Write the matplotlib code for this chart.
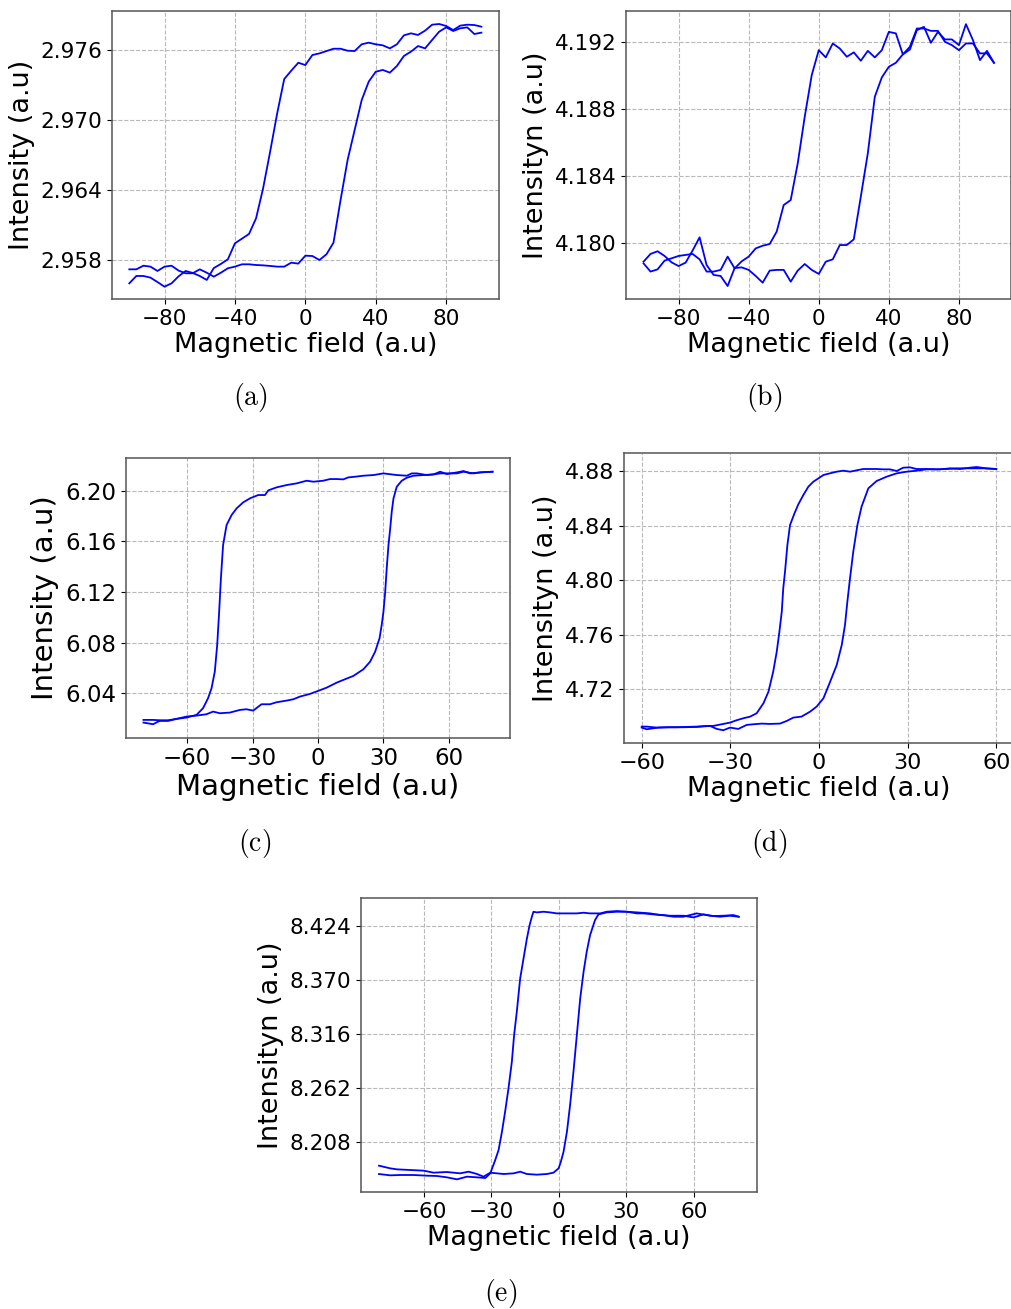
import matplotlib
matplotlib.use("Agg")
import matplotlib.pyplot as plt

plt.rcParams["mathtext.fontset"] = "cm"

# ---------------- data ----------------
# (a) and (b): field sweep in steps of 4
field_ab = [-100, -96, -92, -88, -84, -80, -76, -72, -68, -64,
            -60, -56, -52, -48, -44, -40, -36, -32, -28, -24,
            -20, -16, -12, -8, -4, 0, 4, 8, 12, 16,
            20, 24, 28, 32, 36, 40, 44, 48, 52, 56,
            60, 64, 68, 72, 76, 80, 84, 88, 92, 96, 100]

# ascending field branch (-100 -> 100)
a_up = [2.95720, 2.95720, 2.95751, 2.95743, 2.95706, 2.95743, 2.95751, 2.95709, 2.95686, 2.95686,
        2.95720, 2.95691, 2.95657, 2.95691, 2.95729, 2.95743, 2.95763, 2.95763, 2.95757, 2.95754,
        2.95749, 2.95743, 2.95743, 2.95777, 2.95769, 2.95837, 2.95834, 2.95800, 2.95849, 2.95949,
        2.96314, 2.96657, 2.96914, 2.97171, 2.97329, 2.97414, 2.97429, 2.97406, 2.97463, 2.97549,
        2.97586, 2.97634, 2.97614, 2.97686, 2.97757, 2.97794, 2.97763, 2.97786, 2.97794, 2.97737, 2.97749]
# descending field branch (100 -> -100)
a_down = [2.97800, 2.97814, 2.97817, 2.97809, 2.97771, 2.97806, 2.97823, 2.97817, 2.97766, 2.97729,
          2.97743, 2.97726, 2.97649, 2.97614, 2.97640, 2.97649, 2.97663, 2.97649, 2.97591, 2.97594,
          2.97611, 2.97611, 2.97591, 2.97571, 2.97557, 2.97471, 2.97491, 2.97423, 2.97351, 2.97057,
          2.96729, 2.96414, 2.96157, 2.96023, 2.95983, 2.95943, 2.95806, 2.95766, 2.95731, 2.95629,
          2.95663, 2.95689, 2.95706, 2.95660, 2.95600, 2.95571, 2.95611, 2.95649, 2.95663, 2.95663, 2.95600]

b_up = [4.17891, 4.17937, 4.17953, 4.17925, 4.17887, 4.17865, 4.17885, 4.17957, 4.18036, 4.17871,
        4.17812, 4.17806, 4.17746, 4.17853, 4.17857, 4.17842, 4.17806, 4.17766, 4.17838, 4.17842,
        4.17842, 4.17772, 4.17838, 4.17877, 4.17842, 4.17818, 4.17891, 4.17905, 4.17990, 4.17990,
        4.18024, 4.18278, 4.18536, 4.18873, 4.18988, 4.19051, 4.19075, 4.19125, 4.19170, 4.19279,
        4.19279, 4.19265, 4.19265, 4.19200, 4.19180, 4.19150, 4.19190, 4.19190, 4.19131, 4.19131, 4.19075]
b_down = [4.19075, 4.19146, 4.19091, 4.19210, 4.19305, 4.19180, 4.19214, 4.19214, 4.19259, 4.19194,
          4.19289, 4.19269, 4.19154, 4.19125, 4.19250, 4.19259, 4.19150, 4.19107, 4.19146, 4.19087,
          4.19137, 4.19111, 4.19160, 4.19190, 4.19107, 4.19150, 4.19002, 4.18754, 4.18476, 4.18258,
          4.18228, 4.18070, 4.17996, 4.17986, 4.17970, 4.17921, 4.17893, 4.17851, 4.17921, 4.17842,
          4.17832, 4.17832, 4.17905, 4.17937, 4.17931, 4.17925, 4.17911, 4.17897, 4.17845, 4.17832, 4.17881]

# (c)
c_field_up = [-80, -75.6, -72.6, -68.7, -64.9, -60.3, -55.7, -51.1, -48.1, -45, -40.4, -35.8,
              -32.8, -29.7, -25.9, -22, -19, -14.4, -11.3, -8.3, -3.7, 0, 4, 8.6, 11.6, 16.2,
              20.8, 23.9, 26.2, 28.2, 29.2, 30, 30.8, 31.5, 32.3, 33.1, 33.8, 34.6, 36.1, 38.4,
              40.7, 43.8, 48.4, 53, 56, 59.1, 63.7, 66.7, 69.8, 74.4, 80]
c_up = [6.01684, 6.01553, 6.01816, 6.01816, 6.01974, 6.02158, 6.02237, 6.02342, 6.02553, 6.02421,
        6.02474, 6.02684, 6.02737, 6.02632, 6.03132, 6.03132, 6.03289, 6.03421, 6.03526, 6.03737,
        6.03947, 6.04184, 6.04447, 6.04842, 6.05053, 6.05368, 6.05895, 6.06500, 6.07289, 6.08342,
        6.09395, 6.10447, 6.12026, 6.13868, 6.15711, 6.17026, 6.18342, 6.19395, 6.20316, 6.20789,
        6.21026, 6.21184, 6.21237, 6.21289, 6.21500, 6.21316, 6.21447, 6.21553, 6.21368, 6.21447, 6.21500]
c_field_down = [80, 74.4, 71.3, 66.7, 63.7, 59.1, 56, 53, 49.9, 45.3, 43, 40.7, 36.1, 30, 25.4,
                20.8, 17, 13.9, 11.6, 8.6, 5.5, 2.4, -2.1, -5.2, -9.8, -14.4, -19, -22.8, -24.3,
                -27.4, -31.2, -34.3, -37.3, -39.6, -41.9, -42.7, -43.5, -44.5, -45.3, -46.2, -47.3,
                -48.8, -50.4, -52.7, -55.7, -60.3, -64.9, -68.7, -72.6, -75.6, -80]
c_down = [6.21500, 6.21447, 6.21368, 6.21500, 6.21368, 6.21368, 6.21368, 6.21289, 6.21237, 6.21368,
          6.21368, 6.21184, 6.21237, 6.21368, 6.21237, 6.21184, 6.21105, 6.21053, 6.20895, 6.20921,
          6.20921, 6.20789, 6.20711, 6.20789, 6.20579, 6.20447, 6.20263, 6.20026, 6.19658, 6.19658,
          6.19395, 6.19079, 6.18605, 6.18079, 6.17289, 6.16500, 6.15711, 6.13079, 6.10447, 6.07816,
          6.05711, 6.04395, 6.03605, 6.02816, 6.02289, 6.02079, 6.01974, 6.01868, 6.01868, 6.01895, 6.01895]

# (d)
d_field_up = [-60, -58.3, -54.4, -50.4, -45.9, -41.4, -36.9, -34.6, -32.4, -30.1, -27.3, -24.5,
              -22.2, -19.4, -16.6, -13.2, -10.9, -8.7, -5.9, -3, -0.8, 1.5, 3.7, 6, 7.7, 8.8, 9.6,
              10.5, 11.6, 13, 14.4, 16.7, 19.5, 22.9, 26.3, 29.7, 33, 36.4, 40.9, 44.3, 47.7,
              51.1, 53.3, 56.7, 60]
d_up = [4.69191, 4.69069, 4.69191, 4.69216, 4.69216, 4.69240, 4.69313, 4.69094, 4.68996, 4.69191,
        4.69094, 4.69387, 4.69435, 4.69484, 4.69460, 4.69484, 4.69680, 4.69924, 4.69997, 4.70363,
        4.70730, 4.71341, 4.72513, 4.73783, 4.75249, 4.76715, 4.78425, 4.80135, 4.82089, 4.84043,
        4.85386, 4.86730, 4.87267, 4.87585, 4.87829, 4.87951, 4.88024, 4.88122, 4.88122, 4.88195,
        4.88147, 4.88244, 4.88293, 4.88195, 4.88147]
d_field_down = [60, 55.6, 53.3, 50, 46.6, 43.2, 39.8, 36.4, 33, 30.8, 28.5, 26.3, 24, 21.8, 19.5,
                17.3, 15, 12.7, 10.5, 8.2, 6, 3.7, 1.5, -0.2, -1.9, -3.6, -5.3, -7, -8.3, -9.8,
                -10.7, -11.5, -12.1, -12.6, -13.4, -14.3, -15.5, -17.1, -18.8, -21.1, -23.3,
                -25.6, -27.9, -30.1, -32.4, -35.8, -38, -41.4, -44.8, -48.2, -51.5, -54.9, -58.3, -60]
d_down = [4.88147, 4.88195, 4.88195, 4.88195, 4.88195, 4.88147, 4.88122, 4.88147, 4.88147, 4.88269,
          4.88244, 4.88000, 4.88122, 4.88122, 4.88147, 4.88147, 4.88147, 4.88049, 4.87951, 4.88024,
          4.87951, 4.87829, 4.87707, 4.87463, 4.87218, 4.86852, 4.86241, 4.85557, 4.84898, 4.84043,
          4.82577, 4.80623, 4.79402, 4.77692, 4.76226, 4.74760, 4.73295, 4.71829, 4.70974, 4.70242,
          4.69997, 4.69875, 4.69729, 4.69558, 4.69460, 4.69313, 4.69313, 4.69264, 4.69240, 4.69216,
          4.69216, 4.69191, 4.69264, 4.69264]

# (e)
e_field_up = [-80, -75, -72, -66.1, -60.1, -55.7, -49.8, -43.9, -40.1, -36.4, -33.5, -30.5, -24.6,
              -20.1, -17.2, -14.2, -9.8, -5.3, -2.4, -0.1, 0.9, 2.1, 3.6, 5, 6.5, 8, 9.5, 11, 12.4,
              13.9, 16.1, 17.6, 21.3, 25.8, 30.2, 34.7, 40.6, 45, 49.5, 55.4, 59.9, 64.3, 68.7,
              73.2, 77.6, 80]
e_up = [8.18430, 8.18163, 8.18063, 8.17997, 8.17930, 8.17730, 8.17797, 8.17664, 8.17830, 8.17597,
        8.17331, 8.17730, 8.17597, 8.17664, 8.17830, 8.17597, 8.17531, 8.17597, 8.17730, 8.18163,
        8.18829, 8.19828, 8.21826, 8.24489, 8.27818, 8.31480, 8.35142, 8.37806, 8.39803, 8.41468,
        8.42966, 8.43532, 8.43732, 8.43798, 8.43798, 8.43732, 8.43632, 8.43465, 8.43399, 8.43399,
        8.43232, 8.43532, 8.43365, 8.43399, 8.43465, 8.43299]
e_field_down = [80, 76.1, 71.7, 67.3, 61.3, 55.4, 51, 46.5, 42.1, 37.6, 34.7, 30.2, 25.8, 21.3,
                18.4, 13.9, 11, 8, 3.6, -0.9, -3.9, -6.8, -9.8, -11.3, -12, -13, -14.2, -15.7,
                -17.2, -18.7, -19.9, -20.9, -22.4, -23.9, -25.3, -26.8, -28.3, -30.5, -32.7,
                -36.4, -40.9, -45.3, -49.8, -54.2, -58.7, -64.6, -70.5, -75, -80]
e_down = [8.43299, 8.43399, 8.43299, 8.43399, 8.43632, 8.43299, 8.43299, 8.43465, 8.43532, 8.43632,
          8.43632, 8.43798, 8.43865, 8.43798, 8.43632, 8.43632, 8.43698, 8.43632, 8.43632, 8.43632,
          8.43732, 8.43798, 8.43732, 8.43798, 8.43299, 8.42467, 8.41135, 8.39137, 8.37140, 8.33811,
          8.31480, 8.28817, 8.26154, 8.23823, 8.21826, 8.19994, 8.18996, 8.17664, 8.17198, 8.17265,
          8.17331, 8.17065, 8.17265, 8.17398, 8.17431, 8.17498, 8.17498, 8.17465, 8.17597]


W, H = 1012, 1309
fig = plt.figure(figsize=(W / 100, H / 100), dpi=100)


def make_panel(px, xs_up, ys_up, xs_down, ys_down, xlim, ylim, xticks, yticks, yfmt,
               ylabel, caption, cap_xy, tick_fs=15.5, label_fs=19.5):
    left, top, right, bottom = px
    ax = fig.add_axes([left / W, 1 - bottom / H, (right - left) / W, (bottom - top) / H])
    ax.plot(xs_up, ys_up, color="blue", lw=1.3)
    ax.plot(xs_down, ys_down, color="blue", lw=1.3)
    ax.set_xlim(*xlim)
    ax.set_ylim(*ylim)
    ax.set_xticks(xticks)
    ax.set_yticks(yticks)
    ax.set_yticklabels([yfmt.format(v) for v in yticks])
    ax.tick_params(labelsize=tick_fs)
    ax.grid(True, linestyle="--", color="#b8b8b8", lw=0.8)
    for s in ax.spines.values():
        s.set_color("#555555")
        s.set_linewidth(1.1)
    ax.set_xlabel("Magnetic field (a.u)", fontsize=label_fs, labelpad=2)
    ax.set_ylabel(ylabel, fontsize=label_fs, labelpad=4)
    # sub-figure caption below the panel
    fig.text(cap_xy[0] / W, 1 - cap_xy[1] / H, r"$\mathrm{(" + caption + ")}$",
             fontsize=20, ha="center", va="center")
    return ax


make_panel((111.7, 10.7, 499, 299.3), field_ab, a_up, field_ab[::-1], a_down,
           (-110, 110), (2.95463, 2.97937), [-80, -40, 0, 40, 80],
           [2.958, 2.964, 2.970, 2.976], "{:.3f}", "Intensity (a.u)", "a", (250, 398))

make_panel((626, 10.7, 1011.5, 299.3), field_ab, b_up, field_ab[::-1], b_down,
           (-110, 110), (4.17667, 4.19385), [-80, -40, 0, 40, 80],
           [4.180, 4.184, 4.188, 4.192], "{:.3f}", "Intensityn (a.u)", "b", (764, 398))

make_panel((126, 458.3, 510, 737.7), c_field_up, c_up, c_field_down, c_down,
           (-88, 88), (6.0049, 6.2256), [-60, -30, 0, 30, 60],
           [6.04, 6.08, 6.12, 6.16, 6.20], "{:.2f}", "Intensity (a.u)", "c", (255, 843),
           tick_fs=16.5, label_fs=21)

make_panel((624, 453, 1014, 743.3), d_field_up, d_up, d_field_down, d_down,
           (-66, 66), (4.6804, 4.8932), [-60, -30, 0, 30, 60],
           [4.72, 4.76, 4.80, 4.84, 4.88], "{:.2f}", "Intensityn (a.u)", "d", (769, 843),
           tick_fs=16)

make_panel((361, 897.7, 756.7, 1192.3), e_field_up, e_up, e_field_down, e_down,
           (-88, 88), (8.1577, 8.452), [-60, -30, 0, 30, 60],
           [8.208, 8.262, 8.316, 8.370, 8.424], "{:.3f}", "Intensityn (a.u)", "e", (501, 1293))

fig.savefig("out.png", dpi=100)
